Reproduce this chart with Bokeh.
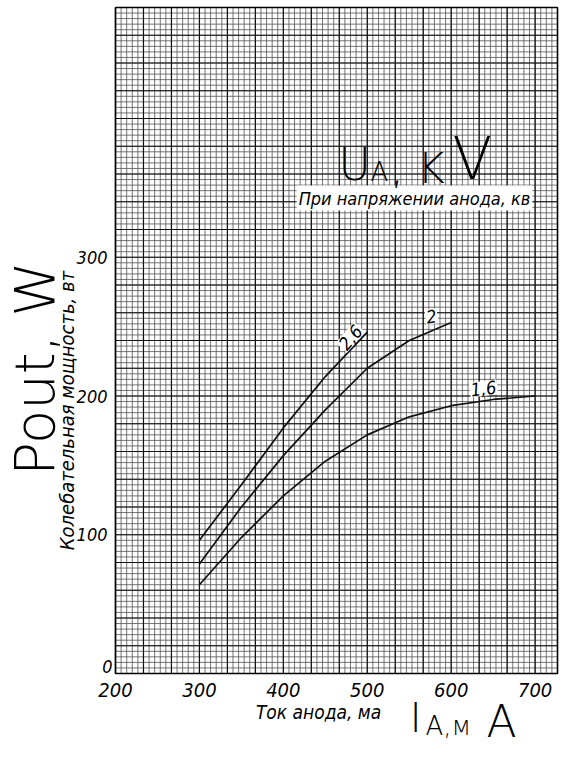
from bokeh.plotting import figure
from bokeh.models import Range1d, FixedTicker, Label
from bokeh.embed import file_html
from bokeh.resources import INLINE

# ---- data ----
current_26 = [300, 350, 400, 450, 500]
power_26 = [96, 136, 177, 214, 246]

current_2 = [300, 350, 400, 450, 500, 550, 600]
power_2 = [79, 120, 157, 190, 220, 240, 253]

current_16 = [300, 350, 400, 450, 500, 550, 600, 650, 700]
power_16 = [64, 98, 128, 153, 172, 185, 193, 197.5, 200]

x_ticks = [200, 300, 400, 500, 600, 700]
y_ticks = [100, 200, 300]
curve_labels = ["2,6", "2", "1,6"]

# graph-paper extent (data units)
X_MIN, X_MAX = 200, 200 + 79 * 100 / 15
Y_MIN, Y_MAX = 0, 480

# canvas layout (pixels): the frame fills the whole canvas, the paper sits inside it
W_PX, H_PX = 568, 759
PAPER_L, PAPER_R, PAPER_T, PAPER_B = 115, 557, 7, 673
SX = (PAPER_R - PAPER_L) / (X_MAX - X_MIN)
SY = (PAPER_B - PAPER_T) / (Y_MAX - Y_MIN)
x_range = Range1d(X_MIN - PAPER_L / SX, X_MAX + (W_PX - PAPER_R) / SX)
y_range = Range1d(Y_MIN - (H_PX - PAPER_B) / SY, Y_MAX + PAPER_T / SY)

NARROW = "'Liberation Sans Narrow', 'DejaVu Sans Condensed', sans-serif"
HAND = "'DejaVu Sans Light', 'Lato Light', 'Liberation Sans', sans-serif"

p = figure(
    width=W_PX, height=H_PX, min_border=0,
    x_range=x_range, y_range=y_range,
    output_backend="svg", toolbar_location=None,
    background_fill_color="white", border_fill_color="white",
)
p.outline_line_color = None
p.grid.visible = False

# graph-paper grid, drawn through the scales
fine_x = [X_MIN + k * 100 / 15 for k in range(80)]
heavy_x = [X_MIN + k * 100 / 3 for k in range(16)]
fine_y = [k * 4 for k in range(121)]
heavy_y = [k * 20 for k in range(25)]

p.segment(x0=fine_x, y0=[Y_MIN] * len(fine_x), x1=fine_x, y1=[Y_MAX] * len(fine_x),
          line_color="#505050", line_width=0.8)
p.segment(x0=[X_MIN] * len(fine_y), y0=fine_y, x1=[X_MAX] * len(fine_y), y1=fine_y,
          line_color="#505050", line_width=0.8)
p.segment(x0=heavy_x, y0=[Y_MIN] * len(heavy_x), x1=heavy_x, y1=[Y_MAX] * len(heavy_x),
          line_color="#111111", line_width=1.2)
p.segment(x0=[X_MIN] * len(heavy_y), y0=heavy_y, x1=[X_MAX] * len(heavy_y), y1=heavy_y,
          line_color="#111111", line_width=1.2)
p.quad(left=[X_MIN], right=[X_MAX], bottom=[Y_MIN], top=[Y_MAX],
       fill_color=None, line_color="black", line_width=1.6)

# axes pinned to the paper edges
p.xaxis.fixed_location = Y_MIN
p.yaxis.fixed_location = X_MIN
for ax in (p.xaxis[0], p.yaxis[0]):
    ax.axis_line_color = None
    ax.major_tick_line_color = None
    ax.minor_tick_line_color = None
    ax.major_label_text_font = NARROW
    ax.major_label_text_font_style = "italic"
    ax.major_label_text_color = "black"
    ax.major_label_standoff = 3
p.xaxis.major_label_text_font_size = "20px"
p.yaxis.major_label_text_font_size = "18px"
p.yaxis.major_label_standoff = 2
p.xaxis.ticker = FixedTicker(ticks=x_ticks)
p.yaxis.ticker = FixedTicker(ticks=y_ticks)

# curves
for xs, ys in ((current_26, power_26), (current_2, power_2), (current_16, power_16)):
    p.line(xs, ys, line_color="#111111", line_width=1.7)

# zero label on the y axis (sits just above the bottom edge)
p.add_layout(Label(x=X_MIN, y=Y_MIN, text="0", x_offset=-3, y_offset=1,
                   text_align="right", text_baseline="bottom",
                   text_font=NARROW, text_font_style="italic",
                   text_font_size="18px", text_color="black"))

# curve labels
for txt, lx, ly, ang in ((curve_labels[0], 480.0, 242.2, 0.85),
                         (curve_labels[1], 576.5, 257.3, 0.15),
                         (curve_labels[2], 638.5, 205.4, 0.12)):
    p.add_layout(Label(x=lx, y=ly, text=txt, angle=ang,
                       text_align="center", text_baseline="middle",
                       text_font=NARROW, text_font_style="italic",
                       text_font_size="18px", text_color="black",
                       background_fill_color="white", padding=1))

# printed legend caption
p.add_layout(Label(x=556.3, y=342.7, text="При напряжении анода, кв",
                   text_align="center", text_baseline="middle",
                   text_font=NARROW, text_font_style="italic",
                   text_font_size="18px", text_color="black",
                   background_fill_color="white", padding=2))

# handwritten UA, KV
for txt, lx, ly, size in (("U", 465.7, 367.2, "44px"),
                          ("A", 503.8, 361.1, "26px"),
                          (", K", 527.7, 364.3, "42px"),
                          ("V", 601.6, 370.8, "58px")):
    p.add_layout(Label(x=lx, y=ly, text=txt, text_baseline="middle",
                       text_font=HAND, text_font_size=size, text_color="black"))

# printed axis titles
p.add_layout(Label(x=441.9, y=-27.4, text="Ток анода, ма",
                   text_align="center", text_baseline="middle",
                   text_font=NARROW, text_font_style="italic",
                   text_font_size="19px", text_color="black"))
p.add_layout(Label(x=142.8, y=189.5, text="Колебательная мощность, вт", angle=1.5708,
                   text_align="center", text_baseline="middle",
                   text_font=NARROW, text_font_style="italic",
                   text_font_size="20px", text_color="black"))

# handwritten axis notes
p.add_layout(Label(x=103.5, y=219.8, text="Pout, W", angle=1.5708,
                   text_align="center", text_baseline="middle",
                   text_font=HAND, text_font_size="56px", text_color="black"))
p.add_layout(Label(x=557.5, y=-32.4, text="I", text_align="center", text_baseline="middle",
                   text_font=HAND, text_font_size="40px", text_color="black"))
p.add_layout(Label(x=569.4, y=-37.5, text="A,м", text_baseline="middle",
                   text_font=HAND, text_font_size="26px", text_color="black"))
p.add_layout(Label(x=659.9, y=-34.6, text="A", text_align="center", text_baseline="middle",
                   text_font=HAND, text_font_size="44px", text_color="black"))

open("out.html", "w").write(file_html(p, INLINE))
